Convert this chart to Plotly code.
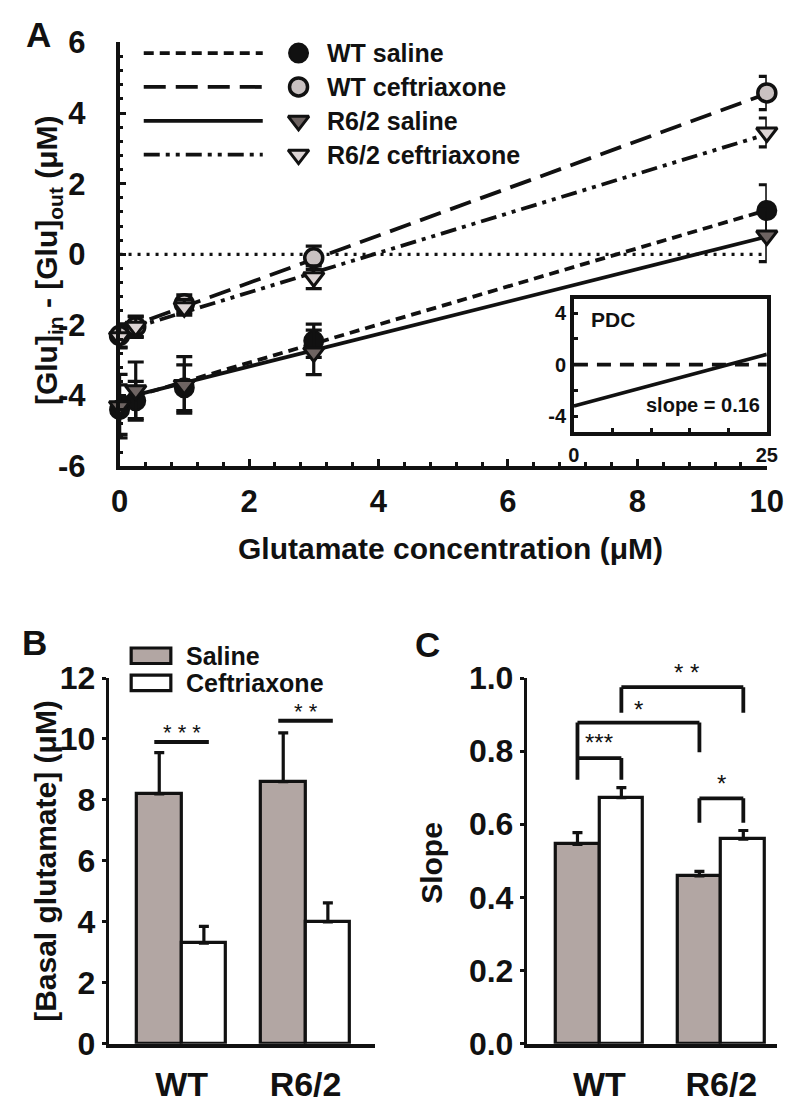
import plotly.graph_objects as go

# ---------------- data ----------------
conc = [0, 0.25, 1, 3, 10]
series_names = ["WT saline", "WT ceftriaxone", "R6/2 saline", "R6/2 ceftriaxone"]
wt_sal = [-4.40, -4.15, -3.78, -2.45, 1.24]
wt_sal_err = [0.70, 0.55, 0.65, 0.47, 0.73]
wt_cef = [-2.30, -2.05, -1.40, -0.10, 4.57]
wt_cef_err = [0.33, 0.30, 0.25, 0.33, 0.47]
r62_sal = [-4.30, -3.85, -3.70, -2.78, 0.53]
r62_sal_err = [0.90, 0.80, 0.80, 0.63, 0.74]
r62_cef = [-2.35, -2.05, -1.50, -0.65, 3.45]
r62_cef_err = [0.30, 0.28, 0.22, 0.32, 0.41]
fit_slopes = [0.54, 0.67, 0.46, 0.56]
fit_intercepts = [-4.15, -2.15, -4.10, -2.20]
a_yticks = [-6, -4, -2, 0, 2, 4, 6]
a_xticks = [0, 2, 4, 6, 8, 10]

pdc_slope = 0.16
pdc_intercept = -3.2
pdc_xrange = [0, 25]
pdc_yticks = [-4, 0, 4]

groups = ["WT", "R6/2"]
basal_saline = [8.2, 8.6]
basal_saline_err = [1.35, 1.6]
basal_cef = [3.3, 4.0]
basal_cef_err = [0.55, 0.62]

slope_saline = [0.545, 0.459]
slope_saline_err = [0.032, 0.012]
slope_cef = [0.673, 0.559]
slope_cef_err = [0.027, 0.024]

# ---------------- styling ----------------
W, H = 800, 1103
FONT = "Liberation Sans, Arial, sans-serif"
SAL_FILL = "#b2a6a3"
BLACK = "#111111"


def dx(a, b):
    return [a / W, b / W]


def dy(top, bottom):
    return [1 - bottom / H, 1 - top / H]


# panel A geometry (pixels)
AX_L, AX_R, AX_T, AX_B = 106, 775, 17, 455
IN_R = AX_R
IN_L = AX_L + 0.702 * (AX_R - AX_L)
IN_T = AX_T + 0.606 * (AX_B - AX_T)
IN_B = AX_T + 0.919 * (AX_B - AX_T)

fig = go.Figure()

# ---- Panel A fit lines ----
dashes = ["10px,6px", "22px,10px", "solid", "16px,6px,4px,6px,4px,6px"]
xfit = [min(conc), max(conc)]
for s, b, d in zip(fit_slopes, fit_intercepts, dashes):
    fig.add_trace(go.Scatter(x=xfit, y=[b + s * x for x in xfit], mode="lines",
                             line=dict(color=BLACK, width=3.8, dash=d),
                             showlegend=False, hoverinfo="skip", xaxis="x", yaxis="y"))

marker_styles = [
    dict(symbol="circle", size=19, color=BLACK, line=dict(color=BLACK, width=2)),
    dict(symbol="circle", size=18, color="#c9c1c1", line=dict(color=BLACK, width=3.5)),
    dict(symbol="triangle-down", size=18, color="#6e6462", line=dict(color=BLACK, width=3)),
    dict(symbol="triangle-down", size=18, color="#dcd4d4", line=dict(color=BLACK, width=3)),
]
ys = [wt_sal, wt_cef, r62_sal, r62_cef]
errs = [wt_sal_err, wt_cef_err, r62_sal_err, r62_cef_err]
for name, yv, ev, ms in zip(series_names, ys, errs, marker_styles):
    fig.add_trace(go.Scatter(x=conc, y=yv, mode="markers", name=name,
                             marker=ms, cliponaxis=False,
                             error_y=dict(type="data", array=ev, visible=True,
                                          color=BLACK, thickness=3.2, width=8),
                             showlegend=False, xaxis="x", yaxis="y"))

# ---- Inset PDC ----
fig.add_trace(go.Scatter(x=pdc_xrange, y=[0, 0], mode="lines",
                         line=dict(color=BLACK, width=3.8, dash="14px,9px"),
                         showlegend=False, hoverinfo="skip", xaxis="x2", yaxis="y2"))
fig.add_trace(go.Scatter(x=pdc_xrange, y=[pdc_intercept + pdc_slope * x for x in pdc_xrange],
                         mode="lines", line=dict(color=BLACK, width=3.8),
                         showlegend=False, hoverinfo="skip", xaxis="x2", yaxis="y2"))

# ---- Panels B and C ----
off = 0.18
bw = 0.36
gx = list(range(len(groups)))
for (sal, sal_e, cef, cef_e, xa, ya) in [
    (basal_saline, basal_saline_err, basal_cef, basal_cef_err, "x3", "y3"),
    (slope_saline, slope_saline_err, slope_cef, slope_cef_err, "x4", "y4"),
]:
    fig.add_trace(go.Bar(x=[g - off for g in gx], y=sal, width=bw,
                         marker=dict(color=SAL_FILL, line=dict(color=BLACK, width=3.2)),
                         error_y=dict(type="data", array=sal_e, arrayminus=[0] * len(sal),
                                      symmetric=False, color=BLACK, thickness=3.2, width=5),
                         showlegend=False, xaxis=xa, yaxis=ya))
    fig.add_trace(go.Bar(x=[g + off for g in gx], y=cef, width=bw,
                         marker=dict(color="white", line=dict(color=BLACK, width=3.2)),
                         error_y=dict(type="data", array=cef_e, arrayminus=[0] * len(cef),
                                      symmetric=False, color=BLACK, thickness=3.2, width=5),
                         showlegend=False, xaxis=xa, yaxis=ya))

# ---- legend glyphs (pixel overlay axis) ----
leg_rows = [28, 63, 98, 133]
for ms, yy in zip(marker_styles, leg_rows):
    fig.add_trace(go.Scatter(x=[291], y=[yy], mode="markers", marker=ms,
                             showlegend=False, hoverinfo="skip", xaxis="x5", yaxis="y5",
                             cliponaxis=False))

shapes = []
annotations = []
for d, yy, name in zip(dashes, leg_rows, series_names):
    shapes.append(dict(type="line", xref="x5", yref="y5", x0=131, x1=254, y0=yy, y1=yy,
                       line=dict(color=BLACK, width=3.8, dash=d)))
    annotations.append(dict(xref="x5", yref="y5", x=318, y=yy, text=name, showarrow=False,
                            xanchor="left", yanchor="middle",
                            font=dict(family=FONT, size=25, color=BLACK, weight="bold")))

# zero dotted line in panel A
shapes.append(dict(type="line", xref="x", yref="y", x0=0, x1=10, y0=0, y1=0,
                   line=dict(color=BLACK, width=3.2, dash="3px,6px"), layer="below"))

# legend B
for yy, fill, label in [(651, SAL_FILL, "Saline"), (679, "white", "Ceftriaxone")]:
    shapes.append(dict(type="rect", xref="x5", yref="y5", x0=118, x1=159, y0=yy - 8, y1=yy + 8,
                       fillcolor=fill, line=dict(color=BLACK, width=3.2)))
    annotations.append(dict(xref="x5", yref="y5", x=173, y=yy, text=label, showarrow=False,
                            xanchor="left", yanchor="middle",
                            font=dict(family=FONT, size=25, color=BLACK, weight="bold")))

# significance B
for x0, x1, yl, txt in [(-0.22, 0.22, 9.9, "* * *"), (0.78, 1.22, 10.6, "* *")]:
    shapes.append(dict(type="line", xref="x3", yref="y3", x0=x0, x1=x1, y0=yl, y1=yl,
                       line=dict(color=BLACK, width=4)))
    annotations.append(dict(xref="x3", yref="y3 domain", x=(x0 + x1) / 2, y=(yl + 0.3) / 12,
                            text=txt, showarrow=False, yanchor="middle",
                            font=dict(family=FONT, size=22, color=BLACK)))

# significance C brackets: (x_left, x_right, top, left_leg_bottom, right_leg_bottom, text, tx, ty)
brackets = [
    (-off, off, 0.781, 0.722, 0.722, "***", 0.0, 0.823),
    (-off, 1 - off, 0.878, 0.781, 0.797, "*", 0.32, 0.915),
    (off, 1 + off, 0.975, 0.905, 0.905, "* *", 0.71, 1.015),
    (1 - off, 1 + off, 0.671, 0.604, 0.604, "*", 1.0, 0.712),
]
for xl, xr, top, lb, rb, txt, tx, ty in brackets:
    for (a0, a1, b0, b1) in [(xl, xr, top, top), (xl, xl, lb, top), (xr, xr, rb, top)]:
        shapes.append(dict(type="line", xref="x4", yref="y4", x0=a0, x1=a1, y0=b0, y1=b1,
                           line=dict(color=BLACK, width=3.8)))
    annotations.append(dict(xref="x4", yref="y4 domain", x=tx, y=ty, text=txt,
                            showarrow=False, yanchor="middle",
                            font=dict(family=FONT, size=24, color=BLACK)))

# panel letters & titles
title_font = dict(family=FONT, size=30, color=BLACK, weight="bold")
for txt, x, y in [("A", 22, 9), ("B", 18, 637), ("C", 424, 639)]:
    annotations.append(dict(xref="x5", yref="y5", x=x, y=y, text=txt, showarrow=False,
                            font=dict(family=FONT, size=35, color=BLACK, weight="bold")))
annotations.append(dict(xref="x5", yref="y5", x=(AX_L + AX_R) / 2 + 8, y=540,
                        text="Glutamate concentration (μM)", showarrow=False, font=title_font))
annotations.append(dict(xref="x5", yref="y5", x=32, y=242, textangle=-90,
                        text="[Glu]<sub>in</sub> - [Glu]<sub>out</sub> (μM)",
                        showarrow=False, font=title_font))
annotations.append(dict(xref="x5", yref="y5", x=30, y=863, textangle=-90,
                        text="[Basal glutamate] (μM)", showarrow=False, font=title_font))
annotations.append(dict(xref="x5", yref="y5", x=429, y=865, textangle=-90,
                        text="Slope", showarrow=False, font=title_font))
annotations.append(dict(xref="x5", yref="y5", x=IN_L + 0.2 * (IN_R - IN_L),
                        y=IN_T + 0.15 * (IN_B - IN_T), text="PDC", showarrow=False,
                        font=dict(family=FONT, size=21, color=BLACK, weight="bold")))
annotations.append(dict(xref="x5", yref="y5", x=IN_L + 0.67 * (IN_R - IN_L),
                        y=IN_T + 0.8 * (IN_B - IN_T), text="slope = 0.16",
                        showarrow=False,
                        font=dict(family=FONT, size=20, color=BLACK, weight="bold")))

tickfontA = dict(family=FONT, size=31, color=BLACK, weight="bold")
tickfontBC = dict(family=FONT, size=32, color=BLACK, weight="bold")
tickfontG = dict(family=FONT, size=34, color=BLACK, weight="bold")
small_tick = dict(family=FONT, size=20, color=BLACK, weight="bold")
axA = dict(showline=True, linewidth=3.8, linecolor=BLACK, ticks="inside", tickwidth=3,
           ticklen=7, tickcolor=BLACK, showgrid=False, zeroline=False, tickfont=tickfontA,
           minor=dict(ticks="inside", ticklen=4, tickwidth=3, tickcolor=BLACK, dtick=0.4,
                      showgrid=False))

fig.update_layout(
    width=W, height=H, margin=dict(l=0, r=0, t=0, b=0),
    paper_bgcolor="white", plot_bgcolor="rgba(0,0,0,0)",
    font=dict(family=FONT, color=BLACK),
    showlegend=False, bargap=0,
    xaxis=dict(domain=dx(AX_L, AX_R), range=[0, 10], tickvals=a_xticks,
               ticktext=[str(v) for v in a_xticks], anchor="y", ticklabelstandoff=5, **axA),
    yaxis=dict(domain=dy(AX_T, AX_B), range=[-6, 6], tickvals=a_yticks,
               ticktext=[str(v) for v in a_yticks], anchor="x", ticklabelstandoff=24, **axA),
    xaxis2=dict(domain=dx(IN_L, IN_R), range=pdc_xrange, anchor="y2", showline=True, mirror=True,
                linewidth=3.8, linecolor=BLACK, ticks="inside", tickvals=pdc_xrange,
                ticktext=[str(v) for v in pdc_xrange],
                ticklen=4, tickwidth=3, tickcolor=BLACK, showgrid=False, zeroline=False,
                tickfont=small_tick, ticklabelstandoff=2,
                minor=dict(ticks="inside", dtick=5, ticklen=4, tickwidth=3, tickcolor=BLACK)),
    yaxis2=dict(domain=dy(IN_T, IN_B), range=[-5.2, 5.07], anchor="x2", showline=True,
                mirror=True, linewidth=3.8, linecolor=BLACK, ticks="inside",
                tickvals=pdc_yticks, ticktext=[str(v) for v in pdc_yticks],
                ticklen=4, tickwidth=3, tickcolor=BLACK, showgrid=False, zeroline=False,
                tickfont=small_tick, ticklabelstandoff=0,
                minor=dict(ticks="inside", dtick=2, ticklen=4, tickwidth=3, tickcolor=BLACK)),
    xaxis3=dict(domain=dx(95, 370), range=[-0.586, 1.56], anchor="y3", showline=True,
                linewidth=4, linecolor=BLACK, ticks="", tickvals=gx, ticktext=groups,
                showgrid=False, zeroline=False, tickfont=tickfontG, ticklabelstandoff=8),
    yaxis3=dict(domain=dy(674, 1052), range=[0, 12], dtick=2, anchor="x3", showline=True,
                linewidth=3.2, linecolor=BLACK, ticks="outside", ticklen=4, tickwidth=3,
                tickcolor=BLACK, showgrid=False, zeroline=False, tickfont=tickfontBC,
                ticklabelstandoff=0),
    xaxis4=dict(domain=dx(527, 786), range=[-0.595, 1.46], anchor="y4", showline=True,
                linewidth=4, linecolor=BLACK, ticks="", tickvals=gx, ticktext=groups,
                showgrid=False, zeroline=False, tickfont=tickfontG, ticklabelstandoff=8),
    yaxis4=dict(domain=dy(674, 1052), range=[0, 1.0], dtick=0.2, tickformat=".1f",
                anchor="x4", showline=True, linewidth=3.2, linecolor=BLACK, ticks="outside",
                ticklen=4, tickwidth=3, tickcolor=BLACK, showgrid=False, zeroline=False,
                tickfont=tickfontBC, ticklabelstandoff=0),
    xaxis5=dict(domain=[0, 1], range=[0, W], visible=False, anchor="y5", fixedrange=True),
    yaxis5=dict(domain=[0, 1], range=[H, 0], visible=False, anchor="x5", fixedrange=True),
    shapes=shapes, annotations=annotations,
)

fig.write_html("out.html")
